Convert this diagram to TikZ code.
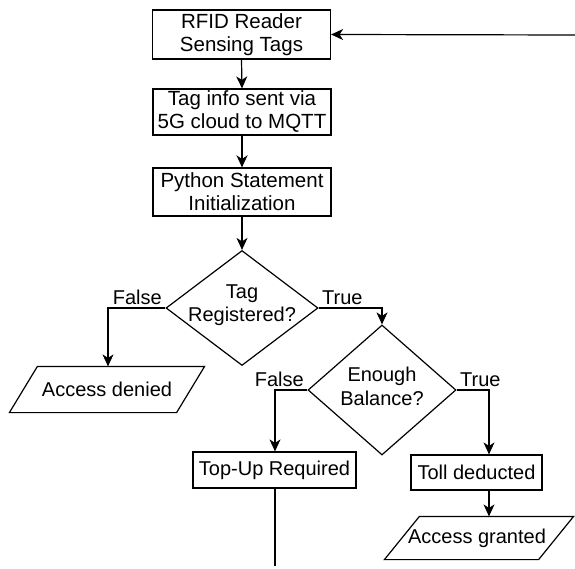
\documentclass[tikz,border=0pt]{standalone}
\usepackage{fontspec}
\setmainfont{Liberation Sans}
\usetikzlibrary{arrows.meta,shapes.geometric,calc}
\begin{document}
\begin{tikzpicture}[x=1pt,y=-1pt,
  font=\fontsize{20}{23.5}\selectfont,
  line width=1.2pt,
  flow/.style={-{Stealth[length=12pt,width=11pt,inset=3.5pt]}},
  procbox/.style={draw,rectangle,inner sep=0pt,align=center,minimum width=178pt,
                  font=\fontsize{20.5}{23}\selectfont},
  decision/.style={draw,diamond,inner sep=0pt},
  iobox/.style={rectangle,inner sep=0pt,align=center},
  branch/.style={inner sep=3pt}]
\useasboundingbox (0,0) rectangle (575,569);

% process steps
\node[procbox,minimum height=49pt] (read) at (241.5,34.5) {RFID Reader\\Sensing Tags};
\node[procbox,minimum height=46pt] (send) at (242,112) {Tag info sent via\\5G cloud to MQTT};
\node[procbox,minimum height=48pt] (init) at (242,192) {Python Statement\\Initialization};

% decisions
\node[decision,minimum width=152pt,minimum height=115pt,
      label={[align=center,yshift=3pt]center:Tag\\Registered?}] (reg) at (242,308) {};
\node[decision,minimum width=148pt,minimum height=130pt,
      label={[align=center,yshift=3.5pt]center:Enough\\Balance?}] (bal) at (382,390) {};

% outcomes
\node[draw,rectangle,inner sep=0pt,minimum width=163pt,minimum height=36pt] (topup) at (274.5,470) {Top-Up Required};
\node[draw,rectangle,inner sep=0pt,minimum width=131pt,minimum height=35pt] (toll) at (476.5,472.5) {Toll deducted};
\node[iobox,minimum width=166pt,minimum height=45pt] (denied) at (107,389.5) {Access denied};
\node[iobox,minimum width=153pt,minimum height=42pt] (granted) at (477,538) {Access granted};

% parallelogram outlines of the input/output steps
\draw ([xshift=14pt]denied.north west) -- ([xshift=14pt]denied.north east)
   -- ([xshift=-14pt]denied.south east) -- ([xshift=-14pt]denied.south west) -- cycle;
\draw ([xshift=19.5pt]granted.north west) -- ([xshift=19.5pt]granted.north east)
   -- ([xshift=-15.5pt]granted.south east) -- ([xshift=-15.5pt]granted.south west) -- cycle;

% loose ends and column guides
\coordinate (loopin) at (575,35);
\coordinate (loopout) at (275,566);
\coordinate (tcol) at (489,0);
\coordinate (dcol) at (108,0);

% connectors
\draw[flow] (loopin) -- (read.east);
\draw[flow] (read.south) -- (send.north);
\draw[flow,line width=1.8pt] (send.south) -- (init.north);
\draw[flow] (init.south) -- (reg.north);
\draw[flow] (reg.west) -| (dcol |- denied.north);
\draw[flow] (reg.east) -| (bal.north);
\draw[flow] (bal.west) -| (topup.north -| loopout);
\draw[flow] (bal.east) -| (tcol |- toll.north);
\draw[flow] (tcol |- toll.south) -- (tcol |- granted.north);
\draw (topup.south -| loopout) -- (loopout);

% branch labels
\node[branch,anchor=south east] at (reg.west) {False};
\node[branch,anchor=south west] at (reg.east) {True};
\node[branch,anchor=south east] at (bal.west) {False};
\node[branch,anchor=south west] at (bal.east) {True};
\end{tikzpicture}
\end{document}
